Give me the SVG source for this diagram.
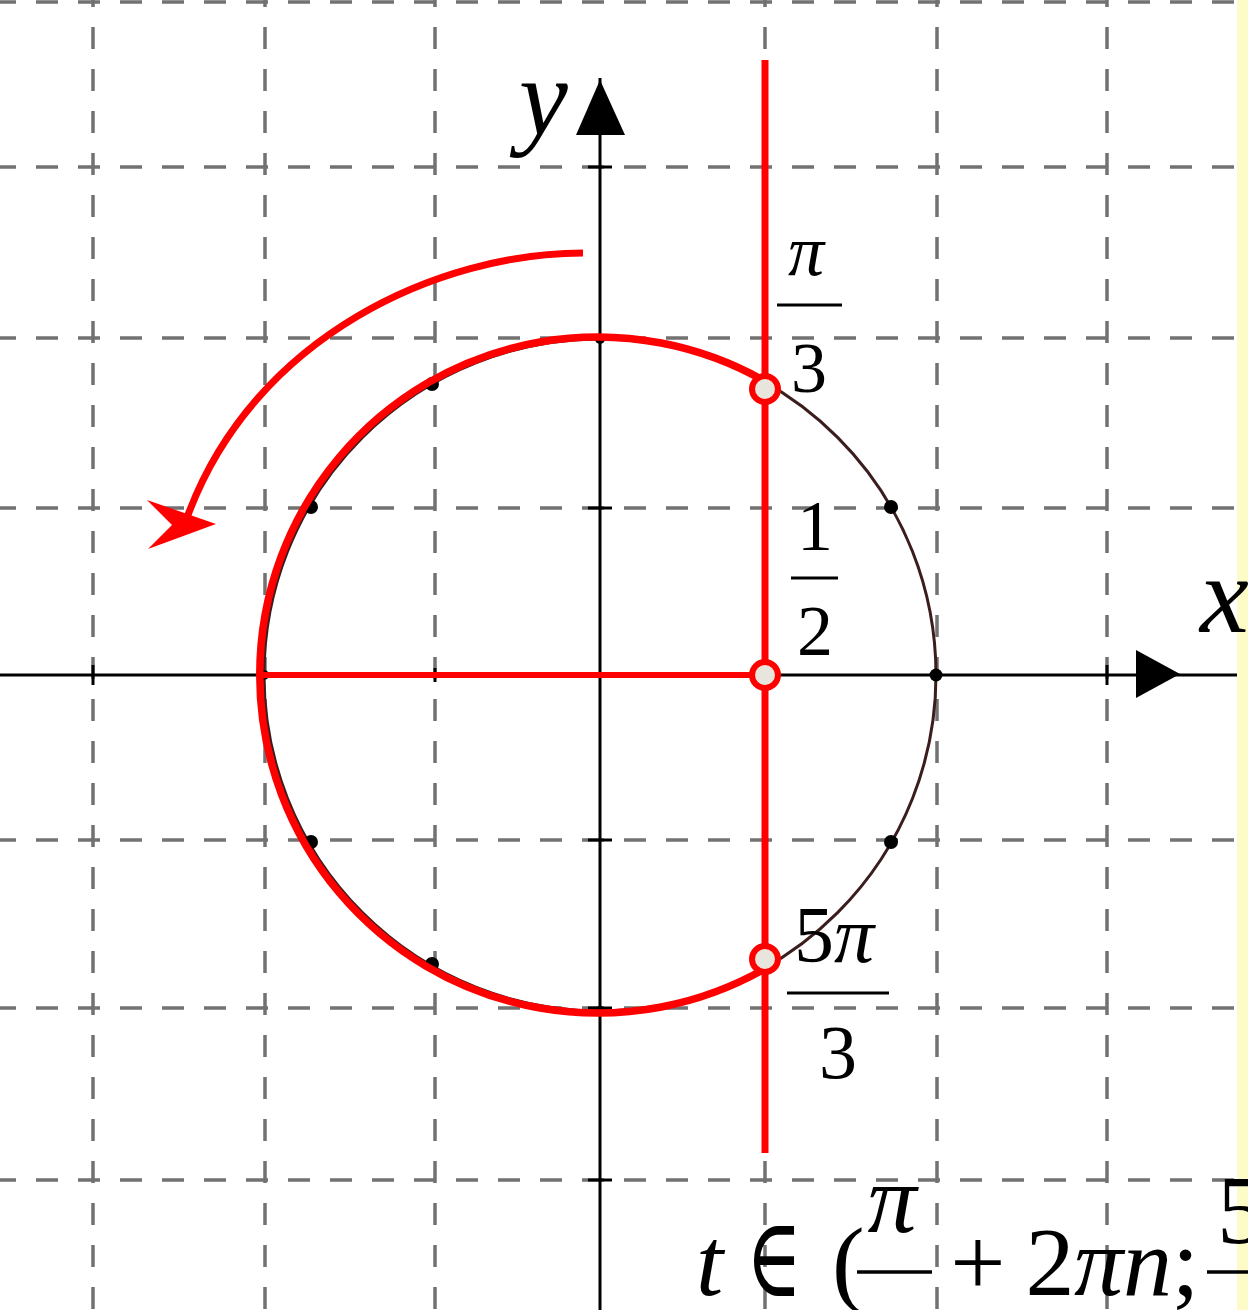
<svg xmlns="http://www.w3.org/2000/svg" width="1248" height="1310" viewBox="0 0 1248 1310">
<style>
.grid{stroke:#727272;stroke-width:3.5;stroke-dasharray:22 20;fill:none}
.axis{stroke:#000;stroke-width:3;fill:none}
.tick{stroke:#000;stroke-width:3}
.red{stroke:#ff0000;fill:none}
.txt{font-family:"Liberation Serif","Times New Roman",serif;fill:#000}
.it{font-style:italic}
.open{fill:#e8e6dc;stroke:#ff0000;stroke-width:6}
.dot{fill:#000}
</style>
<rect x="0" y="0" width="1248" height="1310" fill="#ffffff"/>
<rect x="1237" y="0" width="11" height="1310" fill="#fdfcc8"/>
<g id="grid">
<line class="grid" x1="93" y1="-15" x2="93" y2="1310"/>
<line class="grid" x1="265" y1="-15" x2="265" y2="1310"/>
<line class="grid" x1="435" y1="-15" x2="435" y2="1310"/>
<line class="grid" x1="765" y1="-15" x2="765" y2="1310"/>
<line class="grid" x1="937" y1="-15" x2="937" y2="1310"/>
<line class="grid" x1="1107" y1="-15" x2="1107" y2="1310"/>
<line class="grid" x1="-6" y1="2" x2="1237" y2="2"/>
<line class="grid" x1="-6" y1="167" x2="1237" y2="167"/>
<line class="grid" x1="-6" y1="338" x2="1237" y2="338"/>
<line class="grid" x1="-6" y1="508" x2="1237" y2="508"/>
<line class="grid" x1="-6" y1="840" x2="1237" y2="840"/>
<line class="grid" x1="-6" y1="1008" x2="1237" y2="1008"/>
<line class="grid" x1="-6" y1="1180" x2="1237" y2="1180"/>
</g>
<g id="axes">
<line class="axis" x1="0" y1="675" x2="1237" y2="675"/>
<line class="axis" x1="600" y1="78" x2="600" y2="1310"/>
<polygon points="600,80 576,135 625,135" fill="#000"/>
<polygon points="1180,674 1136,650 1136,698" fill="#000"/>
<line class="tick" x1="93" y1="665" x2="93" y2="685"/>
<line class="tick" x1="435" y1="668" x2="435" y2="682"/>
<line class="tick" x1="1107" y1="665" x2="1107" y2="685"/>
<line class="tick" x1="588" y1="167" x2="612" y2="167"/>
<line class="tick" x1="588" y1="338" x2="612" y2="338"/>
<line class="tick" x1="588" y1="508" x2="612" y2="508"/>
<line class="tick" x1="588" y1="840" x2="612" y2="840"/>
<line class="tick" x1="588" y1="1008" x2="612" y2="1008"/>
<line class="tick" x1="588" y1="1180" x2="612" y2="1180"/>
<text class="txt it" x="519" y="135" font-size="110">y</text>
<text class="txt it" x="1200" y="632" font-size="110">x</text>
</g>
<g id="unit-circle">
<circle cx="600" cy="675" r="336" fill="none" stroke="#3b1d1d" stroke-width="3"/>
<circle class="dot" cx="936" cy="675" r="6.5"/>
<circle class="dot" cx="891" cy="507" r="7"/>
<circle class="dot" cx="432" cy="384" r="7"/>
<circle class="dot" cx="311" cy="507" r="7"/>
<circle class="dot" cx="311" cy="842" r="7"/>
<circle class="dot" cx="432" cy="964" r="7"/>
<circle class="dot" cx="891" cy="842" r="7"/>
<circle class="dot" cx="600" cy="339" r="5"/>
<circle class="dot" cx="600" cy="1011" r="5"/>
<circle class="dot" cx="264" cy="675" r="5"/>
</g>
<g id="connectors">
<path class="red" stroke-width="7.5" d="M768,383 A338,338 0 1 0 768,967"/>
<line class="red" stroke-width="7" x1="765" y1="60" x2="765" y2="1153"/>
<line class="red" stroke-width="6" x1="262" y1="675" x2="765" y2="675"/>
<path class="red" stroke-width="7" d="M583,253 C440,253 255,335 188,515"/>
<polygon points="147,500 216,524 148,549 172,525" fill="#ff0000"/>
</g>
<g id="point-pi3">
<circle class="open" cx="765" cy="389" r="13"/>
<text class="txt it" x="806" y="275" font-size="72" text-anchor="middle">π</text>
<line x1="777" y1="305" x2="842" y2="305" stroke="#000" stroke-width="3"/>
<text class="txt" x="809" y="392" font-size="72" text-anchor="middle">3</text>
</g>
<g id="point-half">
<circle class="open" cx="765" cy="675" r="13"/>
<text class="txt" x="815" y="550" font-size="72" text-anchor="middle">1</text>
<line x1="791" y1="578" x2="838" y2="578" stroke="#000" stroke-width="3"/>
<text class="txt" x="815" y="655" font-size="72" text-anchor="middle">2</text>
</g>
<g id="point-5pi3">
<circle class="open" cx="765" cy="959" r="13"/>
<text class="txt" x="834" y="962" font-size="80" text-anchor="middle">5<tspan class="it">π</tspan></text>
<line x1="787" y1="993" x2="889" y2="993" stroke="#000" stroke-width="3"/>
<text class="txt" x="838" y="1078" font-size="76" text-anchor="middle">3</text>
</g>
<g id="answer">
<text class="txt it" x="696" y="1295" font-size="98">t</text>
<text x="746" y="1296" font-size="112" font-family="'DejaVu Serif','Liberation Serif',serif" textLength="56" lengthAdjust="spacingAndGlyphs">∈</text>
<text class="txt" x="832" y="1295" font-size="98">(</text>
<text class="txt it" x="892" y="1232" font-size="98" text-anchor="middle">π</text>
<line x1="857" y1="1272" x2="932" y2="1272" stroke="#000" stroke-width="3.5"/>
<text class="txt" x="978" y="1295" font-size="98" text-anchor="middle">+</text>
<text class="txt" x="1050" y="1295" font-size="98" text-anchor="middle">2</text>
<text class="txt" x="1074" y="1295" font-size="98"><tspan class="it">πn</tspan>;</text>
<line x1="1207" y1="1272" x2="1248" y2="1272" stroke="#000" stroke-width="3.5"/>
<text class="txt" x="1217" y="1243" font-size="98">5</text>
</g>
</svg>
